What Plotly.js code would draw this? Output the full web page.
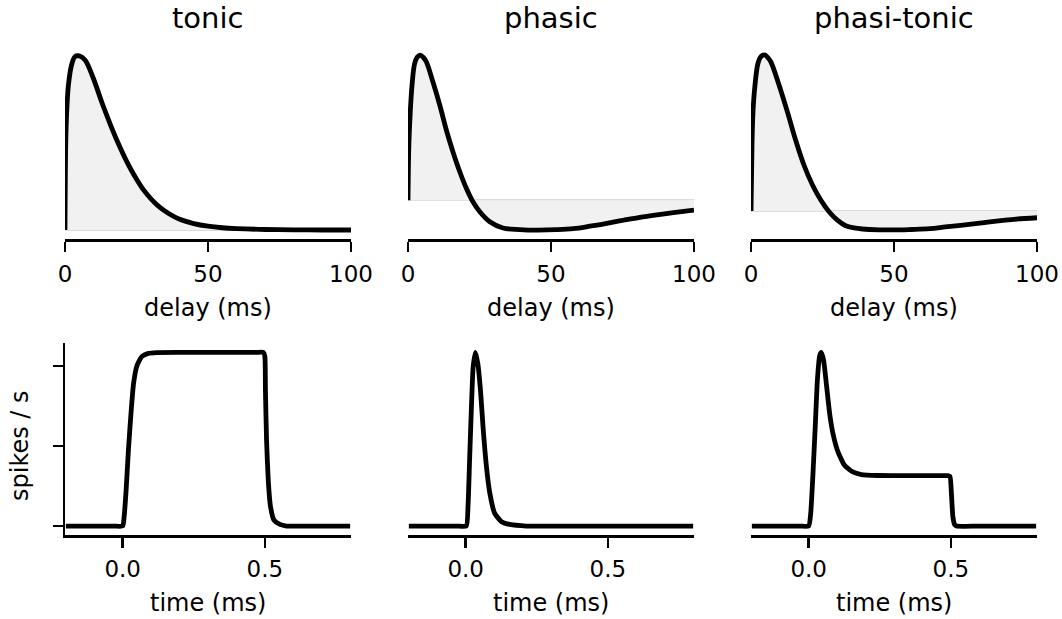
<!DOCTYPE html>
<html>
<head>
<meta charset="utf-8">
<script src="https://cdn.plot.ly/plotly-3.0.1.min.js"></script>
<style>html,body{margin:0;padding:0;background:#fff;}#plot{width:1062px;height:619px;}</style>
</head>
<body>
<div id="plot"></div>
<script>
// ---- data ----
const panelTitles = ['tonic', 'phasic', 'phasi-tonic'];
const kernelTickVals = [0, 50, 100];
const timeTickVals = [0, 0.5];
const timeTickText = ['0.0', '0.5'];
const rateTickVals = [0, 50, 100];

// top row: temporal kernels (normalised, peak = 1)
const tonicDelay = [0, 0.25, 0.6, 1.2, 2.3, 3.5, 5.0, 7.0, 9.9, 12.8, 15.7, 18.6, 21.6, 24.5, 27.4, 30.3, 33.2, 36.1, 39.0, 42, 45, 50, 55, 60, 70, 80, 90, 100];
const tonicKernel = [0, 0.49, 0.68, 0.833, 0.948, 0.996, 1.0, 0.977, 0.872, 0.737, 0.613, 0.498, 0.393, 0.306, 0.232, 0.175, 0.13, 0.096, 0.07, 0.051, 0.037, 0.022, 0.013, 0.008, 0.003, 0.001, 0, 0];

const phasicDelay = [0, 0.3, 0.8, 1.4, 2.3, 3.2, 4.3, 5.3, 6.4, 8.7, 11.1, 13.4, 15.7, 18.1, 20.4, 22.7, 25.1, 28.6, 33.2, 39.1, 45, 52, 57.8, 63.6, 69.5, 75.3, 81.1, 87, 92.8, 100];
const phasicKernel = [0, 0.38, 0.61, 0.79, 0.94, 0.985, 1.0, 0.985, 0.954, 0.816, 0.656, 0.484, 0.335, 0.197, 0.083, -0.01, -0.078, -0.147, -0.19, -0.201, -0.205, -0.202, -0.195, -0.178, -0.158, -0.137, -0.117, -0.1, -0.085, -0.067];

const ptDelay = [0, 0.35, 0.7, 1.4, 2.45, 3.5, 4.8, 5.8, 6.9, 9.8, 12.7, 15.6, 18.5, 21.5, 24.4, 27.3, 30.2, 33.1, 36, 39, 45, 50, 56, 62.5, 68, 74.1, 80, 85.8, 92, 100];
const ptKernel = [0, 0.423, 0.637, 0.808, 0.947, 0.99, 1.0, 0.985, 0.957, 0.808, 0.637, 0.455, 0.295, 0.167, 0.071, -0.004, -0.058, -0.094, -0.108, -0.115, -0.12, -0.121, -0.118, -0.113, -0.102, -0.09, -0.077, -0.064, -0.053, -0.043];

// bottom row: responses (spikes / s)
const tonicT = [-0.2, -0.1, -0.03, 0.0, 0.005, 0.012, 0.02, 0.029, 0.038, 0.05, 0.067, 0.09, 0.12, 0.2, 0.3, 0.4, 0.47, 0.495, 0.5, 0.502, 0.506, 0.512, 0.52, 0.532, 0.553, 0.576, 0.65, 0.8];
const tonicRate = [0, 0, 0, 0, 5.8, 22.4, 47.3, 70.2, 88.9, 100.2, 105.9, 107.9, 108.4, 108.5, 108.5, 108.5, 108.5, 108.5, 106, 85, 53.5, 28.6, 12, 3.7, 1, 0, 0, 0];

const phasicT = [-0.2, -0.1, -0.03, 0.002, 0.008, 0.014, 0.02, 0.026, 0.034, 0.043, 0.052, 0.061, 0.073, 0.085, 0.102, 0.126, 0.155, 0.214, 0.3, 0.5, 0.8];
const phasicRate = [0, 0, 0, 0, 12, 43, 74, 99, 108.5, 101, 84.7, 61.8, 36.9, 20.3, 7.9, 2.7, 1, 0, 0, 0, 0];

const ptT = [-0.2, -0.1, -0.03, 0.0, 0.007, 0.015, 0.0234, 0.0304, 0.0386, 0.0444, 0.0526, 0.062, 0.0737, 0.0854, 0.103, 0.126, 0.155, 0.185, 0.243, 0.3, 0.4, 0.47, 0.49, 0.497, 0.502, 0.507, 0.513, 0.52, 0.6, 0.8];
const ptRate = [0, 0, 0, 0, 7.9, 32.8, 63.9, 90.9, 106.5, 108.5, 103.4, 88.9, 70.2, 57.7, 46.3, 38, 33.8, 32.2, 31.6, 31.5, 31.5, 31.5, 31.5, 31, 20, 6, 1, 0, 0, 0];

// ---- layout helpers ----
const W = 1062, H = 619;
const xd = (a, b) => [a / W, b / W];
const yd = (top, bottom) => [1 - bottom / H, 1 - top / H];
const colPx = [[65, 351], [408, 694], [751, 1037]];
const topRowY = yd(45, 239);
const botRowY = yd(343, 535);
const kernelRanges = [[-0.0517, 1.063], [-0.266, 1.069], [-0.179, 1.064]];
const rateRange = [-5.6, 114.4];
const timeRange = [-0.203, 0.803];

const kernels = [[tonicDelay, tonicKernel], [phasicDelay, phasicKernel], [ptDelay, ptKernel]];
const responses = [[tonicT, tonicRate], [phasicT, phasicRate], [ptT, ptRate]];

const data = [];
kernels.forEach((k, i) => {
  data.push({x: k[0], y: k[1], type: 'scatter', mode: 'lines',
    line: {color: 'black', width: 4.8, shape: 'spline', smoothing: 1.0},
    fill: 'tozeroy', fillcolor: '#f1f1f1', xaxis: 'x' + (i === 0 ? '' : i + 1), yaxis: 'y' + (i === 0 ? '' : i + 1),
    hoverinfo: 'skip'});
});
responses.forEach((r, i) => {
  data.push({x: r[0], y: r[1], type: 'scatter', mode: 'lines',
    line: {color: 'black', width: 4.8, shape: 'spline', smoothing: 0.5},
    xaxis: 'x' + (i + 4), yaxis: 'y' + (i + 4), hoverinfo: 'skip'});
});

const axisBase = {showgrid: false, zeroline: false, fixedrange: true, linecolor: 'black', linewidth: 2.5,
  tickcolor: 'black', tickwidth: 2.5, ticklen: 10, ticks: 'outside', tickfont: {size: 23}};

const layout = {
  width: W, height: H, margin: {l: 0, r: 0, t: 0, b: 0},
  paper_bgcolor: 'white', plot_bgcolor: 'white', showlegend: false,
  font: {family: 'DejaVu Sans', size: 23, color: 'black'},
  annotations: []
};

for (let i = 0; i < 3; i++) {
  const xs = i === 0 ? '' : String(i + 1);
  layout['xaxis' + xs] = Object.assign({}, axisBase, {domain: xd(...colPx[i]), range: [0, 100], anchor: 'y' + xs,
    tickvals: kernelTickVals, ticktext: kernelTickVals.map(String), showline: true, ticklabelstandoff: 3});
  layout['yaxis' + xs] = {domain: topRowY, range: kernelRanges[i], anchor: 'x' + xs, showgrid: false,
    showline: false, ticks: '', showticklabels: false, zeroline: true, zerolinecolor: '#dcdcdc', zerolinewidth: 2, fixedrange: true};
  const b = String(i + 4);
  layout['xaxis' + b] = Object.assign({}, axisBase, {domain: xd(...colPx[i]), range: timeRange, anchor: 'y' + b,
    tickvals: timeTickVals, ticktext: timeTickText, showline: true, ticklabelstandoff: 2});
  layout['yaxis' + b] = Object.assign({}, axisBase, {domain: botRowY, range: rateRange, anchor: 'x' + b,
    tickvals: rateTickVals, showticklabels: false, showline: i === 0, ticks: i === 0 ? 'outside' : ''});

  const cx = (colPx[i][0] + colPx[i][1]) / 2 / W;
  layout.annotations.push({text: panelTitles[i], x: cx, y: 1 - 18.5 / H, xref: 'paper', yref: 'paper',
    xanchor: 'center', yanchor: 'middle', showarrow: false, font: {size: 29}});
  layout.annotations.push({text: 'delay (ms)', x: cx, y: 1 - 308 / H, xref: 'paper', yref: 'paper',
    xanchor: 'center', yanchor: 'middle', showarrow: false, font: {size: 24}});
  layout.annotations.push({text: 'time (ms)', x: cx, y: 1 - 603 / H, xref: 'paper', yref: 'paper',
    xanchor: 'center', yanchor: 'middle', showarrow: false, font: {size: 24}});
}
layout.annotations.push({text: 'spikes / s', x: 20 / W, y: 1 - 446 / H, xref: 'paper', yref: 'paper',
  xanchor: 'center', yanchor: 'middle', textangle: -90, showarrow: false, font: {size: 24}});

Plotly.newPlot('plot', data, layout, {displayModeBar: false, staticPlot: true});
</script>
</body>
</html>
